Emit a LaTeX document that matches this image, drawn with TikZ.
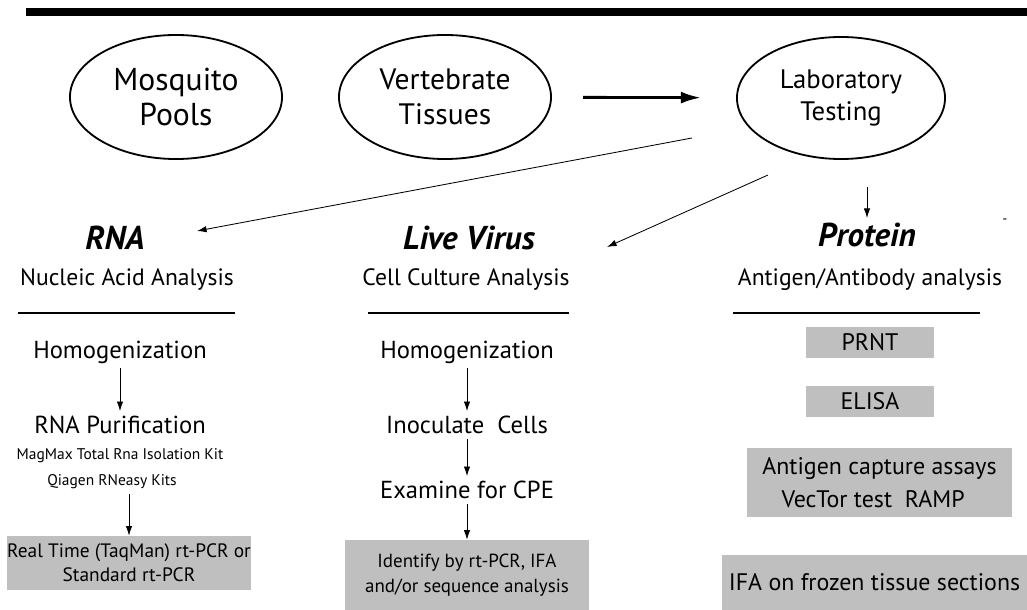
\documentclass[tikz,border=0pt]{standalone}
\usepackage{fontspec}
\setmainfont{PT Sans}
\usetikzlibrary{shapes.geometric, arrows.meta, positioning}

\tikzset{
    source/.style={ellipse, draw, line width=1.3pt, minimum width=5.3cm, minimum height=3.1cm, align=center},
    title/.style={font=\fontsize{23.5}{26}\selectfont\bfseries\itshape},
    subtitle/.style={font=\fontsize{16.8}{18}\selectfont},
    stepnode/.style={font=\fontsize{17.5}{19}\selectfont},
    kitnode/.style={font=\fontsize{11}{13}\selectfont},
    testbox/.style={fill=gray!50, align=center, inner sep=0pt},
    flow/.style={-{Latex[length=2.4mm, width=1.6mm]}, line width=0.6pt},
    rule/.style={line width=1.3pt}
}

\begin{document}
\begin{tikzpicture}[x=0.025cm, y=-0.025cm]
    \useasboundingbox (0,0) rectangle (1027,610);
    \fill (26,8) rectangle (1027,16);

    % sample sources
    \node[source, font=\fontsize{22.5}{25}\selectfont] (mosq) at (176,97) {Mosquito\\Pools};
    \node[source, font=\fontsize{21}{25}\selectfont] (vert) at (445,97) {Vertebrate\\Tissues};
    \node[source, minimum width=5.2cm, minimum height=3.05cm, font=\fontsize{19}{23}\selectfont] (lab) at (841,98) {Laboratory\\Testing};
    \draw[-{Latex[length=5mm, width=3mm]}, line width=2pt, shorten <=0.78cm, shorten >=0.88cm] (vert) -- (lab);

    % RNA column
    \node[title] (rna) at (115,238) {RNA};
    \node[subtitle] (rnasub) at (127,280) {Nucleic Acid Analysis};
    \draw[rule] (18,313) -- (235,313);
    \node[stepnode] (homog1) at (120,352) {Homogenization};
    \node[stepnode] (purif) at (120,425) {RNA Purification};
    \node[kitnode] (magmax) at (120,456) {MagMax Total Rna Isolation Kit};
    \node[kitnode] (qiagen) at (112,482) {Qiagen RNeasy Kits};
    \node[testbox, minimum width=6.1cm, minimum height=1.35cm, font=\fontsize{13.8}{17}\selectfont] (pcr) at (129,563) {Real Time (TaqMan) rt-PCR or\\Standard rt-PCR};
    \draw[flow] (homog1) -- (purif);
    \draw[flow] (qiagen.south -| pcr.north) -- (pcr.north);

    % live virus column
    \node[title] (virus) at (469,238) {Live Virus};
    \node[subtitle] (virussub) at (466,280) {Cell Culture Analysis};
    \draw[rule] (368,313) -- (569,313);
    \node[stepnode] (homog2) at (467,352) {Homogenization};
    \node[stepnode] (inoc) at (467,425) {Inoculate~ Cells};
    \node[stepnode] (cpe) at (467,490) {Examine for CPE};
    \node[testbox, minimum width=6.075cm, minimum height=1.75cm, font=\fontsize{13.5}{18}\selectfont] (ident) at (467,575) {Identify by rt-PCR, IFA\\and/or sequence analysis};
    \draw[flow] (homog2) -- (inoc);
    \draw[flow] (inoc) -- (cpe);
    \draw[flow] (cpe) -- (ident);

    % protein column
    \node[title] (prot) at (867,235) {Protein};
    \node[subtitle] (protsub) at (870,280) {Antigen/Antibody analysis};
    \node (dash) at (1005,221) {-};
    \draw[rule] (733,313) -- (980,313);
    \node[testbox, minimum width=3.2cm, minimum height=0.775cm, font=\fontsize{17}{20}\selectfont] (prnt) at (870,342.5) {PRNT};
    \node[testbox, minimum width=3.2cm, minimum height=0.775cm, font=\fontsize{17}{20}\selectfont] (elisa) at (870,401.5) {ELISA};
    \node[testbox, minimum width=6.625cm, minimum height=1.725cm, font=\fontsize{17}{23}\selectfont] (capture) at (879.5,482.5) {Antigen capture assays\\VecTor test~ RAMP~~~};
    \node[testbox, minimum width=7.625cm, minimum height=1.375cm, font=\fontsize{17}{20}\selectfont] (ifa) at (874.5,582.5) {IFA on frozen tissue sections};

    % from the lab to the three kinds of test
    \coordinate (labtorna) at (692,138);
    \coordinate (rnatip) at (197,231);
    \coordinate (labtovirus) at (768,175);
    \coordinate (virustip) at (607,247);
    \draw[flow] (labtorna) -- (rnatip);
    \draw[flow] (labtovirus) -- (virustip);
    \draw[flow] (lab.south -| prot.north) ++(0,27) -- (prot.north);
\end{tikzpicture}
\end{document}
